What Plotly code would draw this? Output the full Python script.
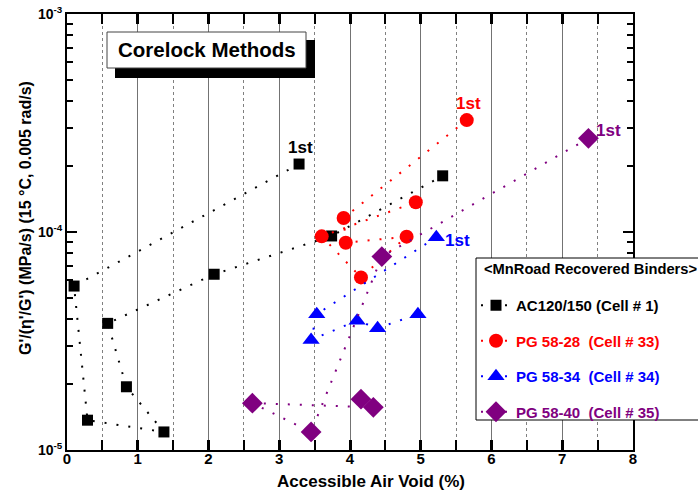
import math
import plotly.graph_objects as go

# Accessible air void (%) and G'/(eta'/G') (MPa/s), in test order (first test first)
ac_x = [3.28, 0.10, 0.29, 1.37, 0.84, 0.575, 2.08, 3.74, 5.31]
ac_y = [2.05e-4, 5.65e-5, 1.37e-5, 1.21e-5, 1.95e-5, 3.81e-5, 6.40e-5, 9.59e-5, 1.81e-4]

pg28_x = [5.65, 3.91, 3.94, 4.80, 4.155, 3.60, 4.93]
pg28_y = [3.26e-4, 1.16e-4, 8.93e-5, 9.52e-5, 6.19e-5, 9.55e-5, 1.37e-4]

pg34_x = [5.22, 3.53, 3.45, 4.10, 4.39, 4.96]
pg34_y = [9.46e-5, 4.20e-5, 3.20e-5, 3.92e-5, 3.62e-5, 4.20e-5]

pg40_x = [7.37, 4.45, 3.45, 2.62, 4.33, 4.155]
pg40_y = [2.69e-4, 7.71e-5, 1.21e-5, 1.64e-5, 1.57e-5, 1.71e-5]

series_names = [
    "AC120/150 (Cell # 1)",
    "PG 58-28\u00a0 (Cell # 33)",
    "PG 58-34\u00a0 (Cell # 34)",
    "PG 58-40\u00a0 (Cell # 35)",
]
legend_title = "<MnRoad Recovered Binders>"
y_tick_vals = [1e-5, 1e-4, 1e-3]
y_tick_text = ["<b>10<sup>-5</sup></b>", "<b>10<sup>-4</sup></b>", "<b>10<sup>-3</sup></b>"]
x_tick_vals = [0, 1, 2, 3, 4, 5, 6, 7, 8]

FONT = "Liberation Sans, Arial, sans-serif"

styles = [
    (ac_x, ac_y, "black", "square", 11),
    (pg28_x, pg28_y, "#ff0000", "circle", 14),
    (pg34_x, pg34_y, "#0000ff", "triangle-up", 15),
    (pg40_x, pg40_y, "#800080", "diamond", 16),
]

fig = go.Figure()
for i, ((xs, ys, col, sym, sz), name) in enumerate(zip(styles, series_names)):
    fig.add_trace(go.Scatter(
        x=xs, y=ys, mode="lines+markers",
        name=f"<b><span style='color:{col}'>{name}</span></b>",
        legendgroup=f"g{i}",
        line=dict(color=col, width=2, dash="2px,10px"),
        marker=dict(color=col, symbol=sym, size=sz, line=dict(width=0)),
    ))

# "1st" tags next to the first measurement of each binder
first_tags = [
    (ac_x[0], ac_y[0], "black", 1, 17),
    (pg28_x[0], pg28_y[0], "#ff0000", 2, 17),
    (pg34_x[0], pg34_y[0], "#0000ff", 21, -3),
    (pg40_x[0], pg40_y[0], "#800080", 20, 8),
]
for x, y, col, dx, dy in first_tags:
    fig.add_annotation(
        x=x, y=math.log10(y), xref="x", yref="y", text="<b>1st</b>",
        showarrow=False, xshift=dx, yshift=dy, xanchor="center", yanchor="middle",
        font=dict(family=FONT, size=17, color=col),
    )

# Plot area in pixels: left 67, right 633, top 14, bottom 450
L, R, T, B = 67, 633, 14, 450
W, H = 698, 494


def px(xp):
    return (xp - L) / (R - L)


def py(yp):
    return (B - yp) / (B - T)


# Title box with drop shadow
fig.add_shape(type="rect", xref="paper", yref="paper",
              x0=px(115), x1=px(315), y0=py(78), y1=py(40),
              fillcolor="black", line=dict(width=0), layer="above")
fig.add_shape(type="rect", xref="paper", yref="paper",
              x0=px(107), x1=px(306), y0=py(68), y1=py(32),
              fillcolor="white", line=dict(color="#444", width=1), layer="above")
fig.add_annotation(x=px(207), y=py(50), xref="paper", yref="paper",
                   xanchor="center", yanchor="middle",
                   text="<b>Corelock Methods</b>", showarrow=False,
                   font=dict(family=FONT, size=20.5, color="black"))

# Legend frame and heading
fig.add_shape(type="rect", xref="paper", yref="paper",
              x0=px(476), x1=px(720), y0=py(420), y1=py(258),
              fillcolor="white", line=dict(color="black", width=1), layer="above")
fig.add_annotation(x=px(482), y=py(269), xref="paper", yref="paper",
                   xanchor="left", yanchor="middle",
                   text="<b>" + legend_title.replace("<", "&lt;").replace(">", "&gt;") + "</b>",
                   showarrow=False, font=dict(family=FONT, size=14.7, color="black"))

# Axis titles
fig.add_annotation(x=px(25), y=py(218), xref="paper", yref="paper",
                   xanchor="center", yanchor="middle", textangle=-90,
                   text="<b>G'/(η'/G') (MPa/s) (15 °C, 0.005 rad/s)</b>",
                   showarrow=False, font=dict(family=FONT, size=16, color="black"))
fig.add_annotation(x=px(370.5), y=py(481), xref="paper", yref="paper",
                   xanchor="center", yanchor="middle",
                   text="<b>Accessible Air Void (%)</b>",
                   showarrow=False, font=dict(family=FONT, size=17, color="black"))

axis_common = dict(
    showline=True, linecolor="black", linewidth=2, mirror="ticks",
    ticks="inside", tickcolor="black", zeroline=False, automargin=False,
)

fig.update_xaxes(
    range=[0, 8], tickvals=x_tick_vals, ticklen=10, tickwidth=2.5,
    ticklabelstandoff=-6,
    tickfont=dict(family=FONT, size=15, color="black", weight="bold"),
    showgrid=True, gridcolor="#737373", gridwidth=1.2,
    minor=dict(tickmode="array", tickvals=[0.5, 1.5, 2.5, 3.5, 4.5, 5.5, 6.5, 7.5],
               ticks="inside", ticklen=10, tickwidth=2, tickcolor="black",
               showgrid=True, gridcolor="#808080", griddash="dot", gridwidth=1),
    **axis_common,
)

minor_y = [m * 10 ** e for e in (-5, -4) for m in range(2, 10)]
fig.update_yaxes(
    type="log", range=[-5, -3], tickvals=y_tick_vals, ticktext=y_tick_text,
    ticklen=10, tickwidth=2, showgrid=False,
    tickfont=dict(family=FONT, size=14, color="black", weight="bold"),
    minor=dict(tickmode="array", tickvals=minor_y, ticks="inside", ticklen=6,
               tickwidth=1.5, tickcolor="black", showgrid=False),
    **axis_common,
)

fig.update_layout(
    width=W, height=H,
    margin=dict(l=L, r=W - R, t=T, b=H - B, pad=0),
    plot_bgcolor="white", paper_bgcolor="white",
    font=dict(family=FONT, color="black"),
    showlegend=True,
    legend=dict(
        x=px(476), y=py(289), xanchor="left", yanchor="top",
        xref="paper", yref="paper",
        bgcolor="rgba(0,0,0,0)", borderwidth=0,
        font=dict(family=FONT, size=15, color="black"),
        tracegroupgap=13, itemsizing="trace",
    ),
)

fig.write_html("out.html")
